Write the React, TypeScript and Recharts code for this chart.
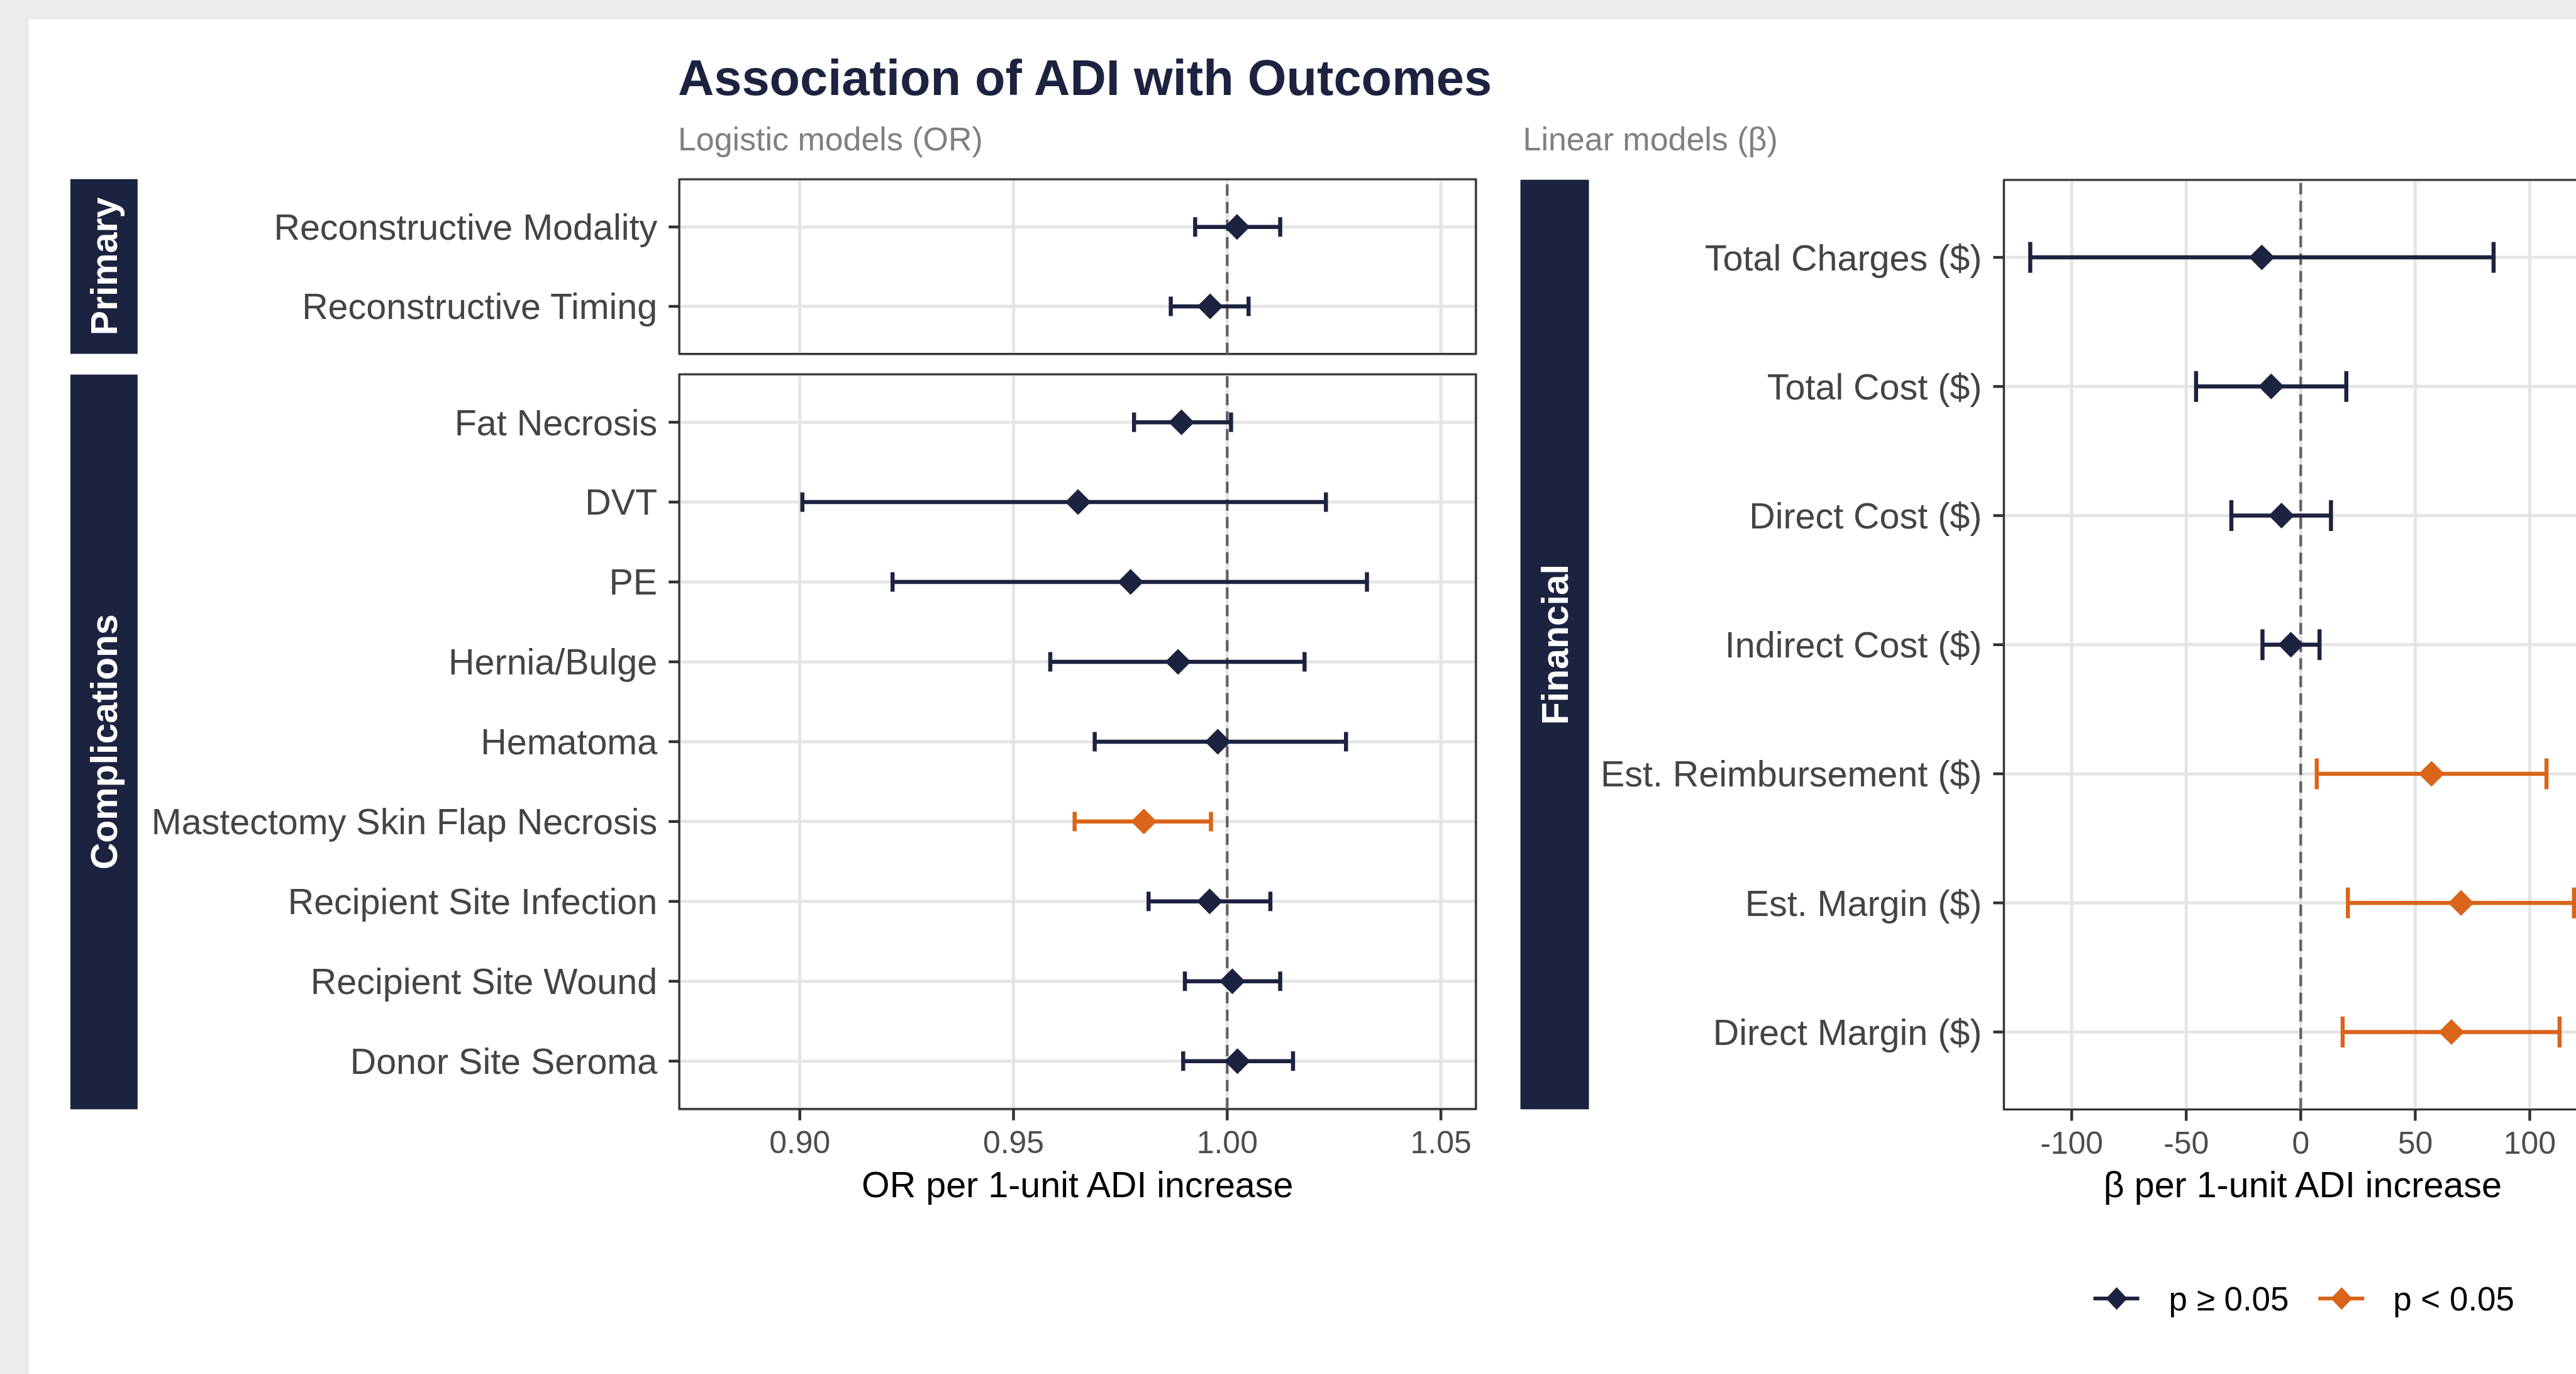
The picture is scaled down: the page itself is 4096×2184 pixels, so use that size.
import React from 'react';
import {
  ScatterChart,
  Scatter,
  XAxis,
  YAxis,
  CartesianGrid,
  ErrorBar,
  ReferenceLine,
  ReferenceArea,
} from 'recharts';

const S = 0.999;
const FONT = '"Liberation Sans", Arial, Helvetica, sans-serif';
const NAVY = '#1c2340';
const ORANGE = '#d9641a';
const GRID = '#e5e5e5';

// Logistic models (OR) — Primary
const primaryLabels = ['Reconstructive Modality', 'Reconstructive Timing'];
const primaryEst = [1.0023, 0.996];
const primaryLow = [0.9925, 0.9868];
const primaryHigh = [1.0124, 1.005];
const primarySig = [false, false];

// Logistic models (OR) — Complications
const complicationLabels = [
  'Fat Necrosis',
  'DVT',
  'PE',
  'Hernia/Bulge',
  'Hematoma',
  'Mastectomy Skin Flap Necrosis',
  'Recipient Site Infection',
  'Recipient Site Wound',
  'Donor Site Seroma',
];
const complicationEst = [0.9893, 0.9651, 0.9774, 0.9885, 0.9978, 0.9805, 0.9959, 1.0012, 1.0024];
const complicationLow = [0.9782, 0.9006, 0.9217, 0.9586, 0.969, 0.9643, 0.9816, 0.9901, 0.9897];
const complicationHigh = [1.0009, 1.0231, 1.0327, 1.0181, 1.0278, 0.9962, 1.0101, 1.0124, 1.0154];
const complicationSig = [false, false, false, false, false, true, false, false, false];

// Linear models (beta) — Financial
const financialLabels = [
  'Total Charges ($)',
  'Total Cost ($)',
  'Direct Cost ($)',
  'Indirect Cost ($)',
  'Est. Reimbursement ($)',
  'Est. Margin ($)',
  'Direct Margin ($)',
];
const financialEst = [-17.0, -12.9, -8.4, -4.3, 57.1, 70.0, 65.8];
const financialLow = [-118.1, -45.7, -30.3, -16.7, 7.0, 20.6, 18.3];
const financialHigh = [84.2, 19.9, 13.2, 8.2, 107.3, 119.3, 113.0];
const financialSig = [false, false, false, false, true, true, true];

const orTicks = [0.9, 0.95, 1.0, 1.05];
const orDomain: [number, number] = [0.8718, 1.0582];
const betaTicks = [-100, -50, 0, 50, 100];
const betaDomain: [number, number] = [-129.6, 131.0];

type Row = { row: number; est: number; err: [number, number]; sig: boolean };

const buildRows = (est: number[], low: number[], high: number[], sig: boolean[]): Row[] =>
  est.map((e, i) => ({ row: i, est: e, err: [e - low[i], high[i] - e], sig: sig[i] }));

const makeDiamond = (color: string, r: number) => (props: any) => {
  const { cx, cy } = props;
  if (cx == null || cy == null) return <g />;
  return (
    <polygon
      points={`${cx},${cy - r} ${cx + r},${cy} ${cx},${cy + r} ${cx - r},${cy}`}
      fill={color}
    />
  );
};

interface PanelProps {
  labels: string[];
  rows: Row[];
  ticks: number[];
  domain: [number, number];
  refX: number;
  chartLeft: number;
  plotLeft: number;
  plotTop: number;
  plotRight: number;
  plotBottom: number;
  showX: boolean;
  cap: number;
  tickFmt: (v: number) => string;
}

const M = 8;
const XH = 110;

const ForestPanel: React.FC<PanelProps> = ({
  labels, rows, ticks, domain, refX, chartLeft, plotLeft, plotTop, plotRight, plotBottom, showX, cap, tickFmt,
}) => {
  const n = labels.length;
  const width = (plotRight - chartLeft + M) * S;
  const height = (plotBottom - plotTop + 2 * M + (showX ? XH : 0)) * S;
  const yDomain: [number, number] = [-0.6, n - 0.4];
  const rowTicks = labels.map((_, i) => i);
  const r = 20.5 * S;

  return (
    <div style={{ position: 'absolute', left: chartLeft * S, top: (plotTop - M) * S, width, height }}>
      <ScatterChart
        width={width}
        height={height}
        margin={{ top: M * S, right: M * S, bottom: M * S, left: 0 }}
      >
        <CartesianGrid stroke={GRID} strokeWidth={5 * S} />
        <XAxis
          type="number"
          dataKey="est"
          domain={domain}
          ticks={ticks}
          allowDataOverflow
          interval={0}
          hide={!showX}
          height={XH * S}
          axisLine={false}
          tickLine={{ stroke: '#333333', strokeWidth: 4.5 * S }}
          tickSize={18 * S}
          tickMargin={17 * S}
          tickFormatter={tickFmt}
          tick={{ fill: '#4d4d4d', fontSize: 50 * S, fontFamily: FONT }}
        />
        <YAxis
          type="number"
          dataKey="row"
          domain={yDomain}
          ticks={rowTicks}
          reversed
          allowDataOverflow
          interval={0}
          width={(plotLeft - chartLeft) * S}
          axisLine={false}
          tickLine={{ stroke: '#333333', strokeWidth: 4.5 * S }}
          tickSize={17 * S}
          tickMargin={18 * S}
          tickFormatter={(v: number) => labels[v] ?? ''}
          tick={{ fill: '#444444', fontSize: 57.5 * S, fontFamily: FONT }}
        />
        <ReferenceLine
          x={refX}
          stroke="#606060"
          strokeWidth={4.2 * S}
          strokeDasharray={`${18 * S} ${10 * S}`}
        />
        <Scatter
          data={rows.filter((d) => !d.sig)}
          fill={NAVY}
          shape={makeDiamond(NAVY, r)}
          isAnimationActive={false}
        >
          <ErrorBar
            dataKey="err"
            direction="x"
            width={cap * S}
            stroke={NAVY}
            strokeWidth={6.5 * S}
            isAnimationActive={false}
          />
        </Scatter>
        <Scatter
          data={rows.filter((d) => d.sig)}
          fill={ORANGE}
          shape={makeDiamond(ORANGE, r)}
          isAnimationActive={false}
        >
          <ErrorBar
            dataKey="err"
            direction="x"
            width={cap * S}
            stroke={ORANGE}
            strokeWidth={6.5 * S}
            isAnimationActive={false}
          />
        </Scatter>
        <ReferenceArea
          x1={domain[0]}
          x2={domain[1]}
          y1={yDomain[0]}
          y2={yDomain[1]}
          fill="none"
          fillOpacity={0}
          stroke="#333333"
          strokeWidth={3.2 * S}
          ifOverflow="visible"
        />
      </ScatterChart>
    </div>
  );
};

const Strip: React.FC<{ x: number; y: number; w: number; h: number; label: string }> = ({ x, y, w, h, label }) => (
  <g>
    <rect x={x} y={y} width={w} height={h} fill={NAVY} />
    <text
      x={x + w / 2}
      y={y + h / 2}
      transform={`rotate(-90 ${x + w / 2} ${y + h / 2})`}
      textAnchor="middle"
      dominantBaseline="central"
      fill="#ffffff"
      fontWeight="bold"
      fontSize={59}
      fontFamily={FONT}
    >
      {label}
    </text>
  </g>
);

const LegendKey: React.FC<{ cx: number; cy: number; color: string; label: string; textX: number }> = ({
  cx, cy, color, label, textX,
}) => (
  <g>
    <line x1={cx - 37} y1={cy} x2={cx + 36} y2={cy} stroke={color} strokeWidth={6} />
    <polygon points={`${cx},${cy - 18} ${cx + 17},${cy} ${cx},${cy + 18} ${cx - 17},${cy}`} fill={color} />
    <text x={textX} y={cy + 19} fontSize={53} fontFamily={FONT} fill="#000000">
      {label}
    </text>
  </g>
);

export default function App() {
  const primaryRows = buildRows(primaryEst, primaryLow, primaryHigh, primarySig);
  const complicationRows = buildRows(complicationEst, complicationLow, complicationHigh, complicationSig);
  const financialRows = buildRows(financialEst, financialLow, financialHigh, financialSig);
  const orFmt = (v: number) => v.toFixed(2);
  const betaFmt = (v: number) => String(v);

  return (
    <div
      style={{
        position: 'fixed',
        left: 0,
        top: 0,
        width: 4096,
        height: 2184,
        overflow: 'hidden',
        background: '#ebebeb',
        fontFamily: FONT,
      }}
    >
      <div
        style={{
          position: 'absolute',
          left: 46 * S,
          top: 31 * S,
          right: 0,
          bottom: 0,
          background: '#ffffff',
        }}
      />
      <ForestPanel
        labels={primaryLabels}
        rows={primaryRows}
        ticks={orTicks}
        domain={orDomain}
        refX={1}
        chartLeft={200}
        plotLeft={1081}
        plotTop={285}
        plotRight={2349}
        plotBottom={563}
        showX={false}
        cap={15.5}
        tickFmt={orFmt}
      />
      <ForestPanel
        labels={complicationLabels}
        rows={complicationRows}
        ticks={orTicks}
        domain={orDomain}
        refX={1}
        chartLeft={200}
        plotLeft={1081}
        plotTop={596}
        plotRight={2349}
        plotBottom={1765}
        showX
        cap={15.5}
        tickFmt={orFmt}
      />
      <ForestPanel
        labels={financialLabels}
        rows={financialRows}
        ticks={betaTicks}
        domain={betaDomain}
        refX={0}
        chartLeft={2530}
        plotLeft={3190}
        plotTop={286}
        plotRight={4140}
        plotBottom={1765}
        showX
        cap={24.5}
        tickFmt={betaFmt}
      />
      <svg
        width={4096}
        height={2184}
        style={{ position: 'absolute', left: 0, top: 0, pointerEvents: 'none' }}
      >
        <g transform={`scale(${S})`}>
          <text x={1079} y={151} fontSize={79.5} fontWeight="bold" fontFamily={FONT} fill={NAVY}>
            Association of ADI with Outcomes
          </text>
          <text x={1079} y={239} fontSize={52} fontFamily={FONT} fill="#808080">
            Logistic models (OR)
          </text>
          <text x={2424} y={239} fontSize={52} fontFamily={FONT} fill="#808080">
            Linear models (β)
          </text>
          <Strip x={112} y={285} w={107} h={278} label="Primary" />
          <Strip x={112} y={596} w={107} h={1169} label="Complications" />
          <Strip x={2420} y={286} w={109} h={1479} label="Financial" />
          <text x={1715} y={1905} textAnchor="middle" fontSize={57.5} fontFamily={FONT} fill="#000000">
            OR per 1-unit ADI increase
          </text>
          <text x={3665} y={1905} textAnchor="middle" fontSize={57.5} fontFamily={FONT} fill="#000000">
            β per 1-unit ADI increase
          </text>
          <LegendKey cx={3369} cy={2066} color={NAVY} label="p ≥ 0.05" textX={3452} />
          <LegendKey cx={3727} cy={2066} color={ORANGE} label="p < 0.05" textX={3809} />
        </g>
      </svg>
    </div>
  );
}
